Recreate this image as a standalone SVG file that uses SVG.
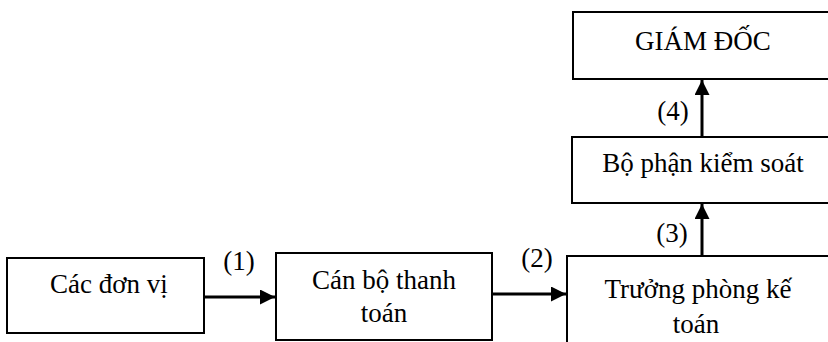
<svg xmlns="http://www.w3.org/2000/svg" width="828" height="342" viewBox="0 0 828 342">
<style>
.box{fill:#fff;stroke:#000;stroke-width:2}
.t{font-family:'Liberation Serif','Times New Roman',serif;font-size:27px;fill:#000;text-anchor:middle}
.c{stroke:#000;stroke-width:3;fill:none}
</style>
<defs>
<marker id="ah" markerWidth="5" markerHeight="5" refX="5" refY="2.5" orient="auto" markerUnits="strokeWidth">
<path d="M0,0 L5,2.5 L0,5 Z" fill="#000"/>
</marker>
</defs>
<rect width="828" height="342" fill="#fff"/>
<g id="n1">
<rect class="box" x="7" y="258" width="197" height="75"/>
<text class="t" x="109" y="293" font-family="Liberation Serif">Các đơn vị</text>
</g>
<g id="n2">
<rect class="box" x="276" y="253" width="216" height="87"/>
<text class="t" x="384" y="289" font-family="Liberation Serif">Cán bộ thanh</text>
<text class="t" x="384" y="322" font-family="Liberation Serif">toán</text>
</g>
<g id="n3">
<rect class="box" x="567" y="256" width="270" height="100"/>
<text class="t" x="698" y="298" font-family="Liberation Serif">Trưởng phòng kế</text>
<text class="t" x="696" y="333" font-family="Liberation Serif">toán</text>
</g>
<g id="n4">
<rect class="box" x="573" y="12" width="264" height="67"/>
<text class="t" x="703" y="50" font-family="Liberation Serif">GIÁM ĐỐC</text>
</g>
<g id="n5">
<rect class="box" x="572" y="137" width="265" height="66"/>
<text class="t" x="703" y="172" font-family="Liberation Serif">Bộ phận kiểm soát</text>
</g>
<g id="connectors">
<line class="c" x1="204" y1="297" x2="275" y2="297" marker-end="url(#ah)"/>
<line class="c" x1="492" y1="294" x2="566" y2="294" marker-end="url(#ah)"/>
<line class="c" x1="702" y1="256" x2="702" y2="204" marker-end="url(#ah)"/>
<line class="c" x1="702" y1="137" x2="702" y2="80" marker-end="url(#ah)"/>
<text class="t" x="239" y="270" font-family="Liberation Serif">(1)</text>
<text class="t" x="537" y="267" font-family="Liberation Serif">(2)</text>
<text class="t" x="672" y="242" font-family="Liberation Serif">(3)</text>
<text class="t" x="673" y="120" font-family="Liberation Serif">(4)</text>
</g>
</svg>
